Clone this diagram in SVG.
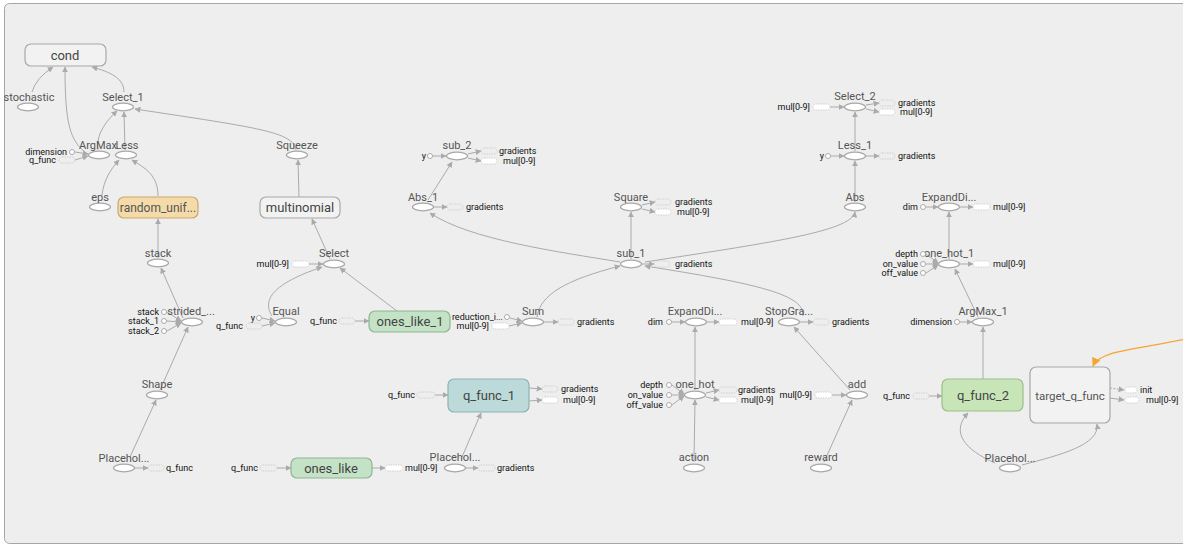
<svg xmlns="http://www.w3.org/2000/svg" width="1183" height="546" viewBox="0 0 1183 546">
<defs>
<marker id="ah" viewBox="0 0 10 10" refX="9" refY="5" markerWidth="6" markerHeight="6" markerUnits="userSpaceOnUse" orient="auto"><path d="M0,0 L10,5 L0,10 z" fill="#aaa"/></marker>
<marker id="ao" viewBox="0 0 10 10" refX="9" refY="5" markerWidth="9" markerHeight="9" markerUnits="userSpaceOnUse" orient="auto"><path d="M0,0 L10,5 L0,10 z" fill="#f5a632"/></marker>
<style>
.e{fill:none;stroke:#aaa;stroke-width:1;marker-end:url(#ah)}
.ed{fill:none;stroke:#aaa;stroke-width:1;stroke-dasharray:2,1.5;marker-end:url(#ah)}
.op{fill:#fff;stroke:#a8a8a8;stroke-width:1.2}
.cir{fill:#fff;stroke:#aaa;stroke-width:1}
.bx{fill:none;stroke:#c8c8c8;stroke-width:0.8;stroke-dasharray:1.5,1}
.bw{fill:#fff;stroke:#c8c8c8;stroke-width:0.8;stroke-dasharray:1.5,1}
.l{font-family:Roboto,"Liberation Sans",sans-serif;font-size:11px;fill:#555;text-anchor:middle}
.bl{font-family:Roboto,"Liberation Sans",sans-serif;font-size:13px;fill:#444;text-anchor:middle}
.a{font-family:Roboto,"Liberation Sans",sans-serif;font-size:9px;fill:#111}
.ar{font-family:Roboto,"Liberation Sans",sans-serif;font-size:9px;fill:#111;text-anchor:end}
</style>
</defs>
<rect x="0" y="0" width="1183" height="546" fill="#fff"/>
<rect x="4.5" y="3.5" width="1200" height="540" rx="5" fill="#eeeeee" stroke="#a6a6a6" stroke-width="1"/>

<g id="connectors">
<path class="e" d="M32,92 Q36,78 53,67"/>
<path class="e" d="M86,153 C70,140 65,125 65,67"/>
<path class="e" d="M124,92 C124,78 110,72 92,67"/>
<path class="e" d="M98,150 C96,135 105,122 117,111"/>
<path class="e" d="M125,150 L124,112"/>
<path class="e" d="M296,150 C293,132 260,128 135,109"/>
<path class="e" d="M102,195 C104,180 110,170 119,160"/>
<path class="e" d="M158,196 C158,175 145,168 132,160"/>
<path class="e" d="M158,258 L158,219"/>
<path class="e" d="M183,318 L161,268"/>
<path class="e" d="M160,390 L188,327"/>
<path class="e" d="M130,457 L156,400"/>
<path class="e" d="M330,259 L312,219"/>
<path class="e" d="M299,197 L298,160"/>
<path class="e" d="M272,316 C262,300 272,284 322,267"/>
<path class="e" d="M397,311 L340,268"/>
<path class="e" d="M537,317 C540,295 565,280 620,266"/>
<path class="e" d="M620,262 C560,252 470,240 430,213"/>
<path class="e" d="M428,200 L452,162"/>
<path class="e" d="M631,259 L631,212"/>
<path class="e" d="M645,262 C760,244 852,232 855,212"/>
<path class="e" d="M803,316 C805,295 760,284 645,266"/>
<path class="e" d="M855,202 L855,161"/>
<path class="e" d="M855,151 L855,112"/>
<path class="e" d="M949,259 L949,212"/>
<path class="e" d="M978,317 L955,269"/>
<path class="e" d="M983,379 L983,327"/>
<path class="e" d="M995,463 C965,450 950,432 968,413"/>
<path class="e" d="M1022,465 C1060,455 1100,445 1097,424"/>
<path fill="none" stroke="#f5a632" stroke-width="1.2" marker-end="url(#ao)" d="M1186,339 C1140,349 1100,350 1093,366"/>
<path class="e" d="M695,390 L695,327"/>
<path class="e" d="M694,462 L695,400"/>
<path class="e" d="M850,390 L794,327"/>
<path class="e" d="M824,462 L852,400"/>
<path class="e" d="M462,457 L481,413"/>
<!-- annotation arrows -->
<path class="e" d="M75,152 L88,154"/>
<path class="e" d="M75,160 L88,156"/>
<path class="e" d="M167,312 L181,321"/>
<path class="e" d="M167,321 L181,322"/>
<path class="e" d="M167,331 L181,323"/>
<path class="e" d="M135,468 L148,468"/>
<path class="e" d="M309,264 L323,264"/>
<path class="e" d="M262,318 L275,321"/>
<path class="e" d="M262,326 L275,323"/>
<path class="e" d="M355,321 L369,321"/>
<path class="e" d="M510,318 L522,321"/>
<path class="e" d="M509,326 L522,323"/>
<path class="e" d="M544,322 L558,322"/>
<path class="e" d="M433,156 L446,156"/>
<path class="e" d="M468,154 L481,151"/>
<path class="e" d="M468,158 L481,161"/>
<path class="e" d="M434,207 L447,207"/>
<path class="e" d="M642,205 L655,202"/>
<path class="e" d="M642,209 L655,212"/>
<path class="e" d="M642,264 L654,264"/>
<path class="e" d="M830,107 L844,107"/>
<path class="e" d="M866,105 L879,103"/>
<path class="e" d="M866,109 L879,112"/>
<path class="e" d="M831,156 L844,156"/>
<path class="e" d="M866,156 L879,156"/>
<path class="e" d="M926,207 L938,207"/>
<path class="e" d="M960,207 L973,207"/>
<path class="e" d="M926,254 L938,263"/>
<path class="e" d="M926,264 L938,264"/>
<path class="e" d="M926,273 L938,265"/>
<path class="e" d="M960,264 L973,264"/>
<path class="e" d="M960,322 L972,322"/>
<path class="e" d="M929,396 L942,396"/>
<path class="ed" d="M1110,388 L1124,390"/>
<path class="e" d="M1110,398 L1124,400"/>
<path class="e" d="M672,322 L685,322"/>
<path class="e" d="M707,322 L719,322"/>
<path class="e" d="M800,322 L813,322"/>
<path class="e" d="M672,385 L684,394"/>
<path class="e" d="M672,395 L684,395"/>
<path class="e" d="M672,405 L684,396"/>
<path class="e" d="M706,393 L719,390"/>
<path class="e" d="M706,397 L719,400"/>
<path class="e" d="M832,395 L846,395"/>
<path class="e" d="M435,395 L448,395"/>
<path class="e" d="M529,388 L542,389"/>
<path class="e" d="M529,401 L542,400"/>
<path class="e" d="M277,468 L291,468"/>
<path class="e" d="M372,468 L385,468"/>
<path class="e" d="M466,468 L478,468"/>
</g>

<g id="cond"><rect x="25" y="44" width="81" height="22" rx="6" fill="#f2f2f2" stroke="#a8a8a8" stroke-width="1.2"/><text class="bl" x="65" y="60">cond</text></g>
<g id="stochastic"><ellipse class="op" cx="28" cy="107" rx="10.5" ry="3.8"/><text class="l" x="29" y="101">stochastic</text></g>
<g id="Select_1"><ellipse class="op" cx="123" cy="107" rx="10.5" ry="3.8"/><text class="l" x="123" y="101">Select_1</text></g>
<g id="ArgMax"><ellipse class="op" cx="99" cy="155" rx="10.5" ry="3.8"/><text class="l" x="98" y="149">ArgMax</text>
<circle class="cir" cx="72" cy="152" r="2.5"/><text class="ar" x="67" y="155">dimension</text>
<rect class="bx" x="59" y="157" width="16" height="6" rx="3"/><text class="ar" x="56" y="163">q_func</text></g>
<g id="Less"><ellipse class="op" cx="126" cy="155" rx="10.5" ry="3.8"/><text class="l" x="127" y="149">Less</text></g>
<g id="eps"><ellipse class="op" cx="100" cy="207" rx="10.5" ry="3.8"/><text class="l" x="100" y="201">eps</text></g>
<g id="random_uniform"><rect x="118" y="197" width="80" height="21" rx="6" fill="#f4dba9" stroke="#c8aa6e" stroke-width="1.2"/><text class="l" x="158" y="212" style="font-size:12px">random_unif...</text></g>
<g id="stack"><ellipse class="op" cx="158" cy="263" rx="10.5" ry="3.8"/><text class="l" x="158" y="257">stack</text></g>
<g id="strided_slice"><ellipse class="op" cx="192" cy="322" rx="10.5" ry="3.8"/><text class="l" x="191" y="315">strided_...</text>
<circle class="cir" cx="164" cy="312" r="2.5"/><text class="ar" x="159" y="315">stack</text>
<circle class="cir" cx="164" cy="321" r="2.5"/><text class="ar" x="159" y="324">stack_1</text>
<circle class="cir" cx="164" cy="331" r="2.5"/><text class="ar" x="159" y="334">stack_2</text></g>
<g id="Shape"><ellipse class="op" cx="157" cy="395" rx="10.5" ry="3.8"/><text class="l" x="157" y="388">Shape</text></g>
<g id="Placeholder"><ellipse class="op" cx="124" cy="468" rx="10.5" ry="3.8"/><text class="l" x="124" y="462">Placehol...</text>
<rect class="bx" x="148" y="465" width="16" height="6" rx="3"/><text class="a" x="166" y="471">q_func</text></g>

<g id="Squeeze"><ellipse class="op" cx="297" cy="155" rx="10.5" ry="3.8"/><text class="l" x="297" y="149">Squeeze</text></g>
<g id="multinomial"><rect x="260" y="197" width="80" height="21" rx="6" fill="#f2f2f2" stroke="#a8a8a8" stroke-width="1.2"/><text class="bl" x="300" y="212">multinomial</text></g>
<g id="Select"><ellipse class="op" cx="334" cy="264" rx="10.5" ry="3.8"/><text class="l" x="334" y="257">Select</text>
<rect class="bw" x="292" y="261" width="17" height="6" rx="3"/><text class="ar" x="289" y="267">mul[0-9]</text></g>
<g id="Equal"><ellipse class="op" cx="286" cy="322" rx="10.5" ry="3.8"/><text class="l" x="286" y="315">Equal</text>
<circle class="cir" cx="259" cy="318" r="2.5"/><text class="ar" x="255" y="321">y</text>
<rect class="bx" x="246" y="323" width="16" height="6" rx="3"/><text class="ar" x="243" y="329">q_func</text></g>
<g id="ones_like_1"><rect x="369" y="311" width="81" height="21" rx="6" fill="#c4e2c6" stroke="#90b494" stroke-width="1.2"/><text class="bl" x="410" y="326">ones_like_1</text>
<rect class="bx" x="339" y="318" width="16" height="6" rx="3"/><text class="ar" x="337" y="324">q_func</text></g>
<g id="Sum"><ellipse class="op" cx="533" cy="322" rx="10.5" ry="3.8"/><text class="l" x="533" y="315">Sum</text>
<circle class="cir" cx="507" cy="317" r="2.5"/><text class="ar" x="503" y="320">reduction_i...</text>
<rect class="bw" x="492" y="323" width="17" height="6" rx="3"/><text class="ar" x="489" y="329">mul[0-9]</text>
<rect class="bx" x="558" y="319" width="16" height="6" rx="3"/><text class="a" x="577" y="325">gradients</text></g>

<g id="sub_2"><ellipse class="op" cx="457" cy="156" rx="10.5" ry="3.8"/><text class="l" x="457" y="149">sub_2</text>
<circle class="cir" cx="430" cy="156" r="2.5"/><text class="ar" x="426" y="159">y</text>
<rect class="bx" x="481" y="148" width="16" height="6" rx="3"/><text class="a" x="499" y="154">gradients</text>
<rect class="bw" x="481" y="158" width="16" height="6" rx="3"/><text class="a" x="503" y="164">mul[0-9]</text></g>
<g id="Abs_1"><ellipse class="op" cx="423" cy="207" rx="10.5" ry="3.8"/><text class="l" x="423" y="201">Abs_1</text>
<rect class="bx" x="447" y="204" width="16" height="6" rx="3"/><text class="a" x="466" y="210">gradients</text></g>
<g id="Square"><ellipse class="op" cx="631" cy="207" rx="10.5" ry="3.8"/><text class="l" x="631" y="201">Square</text>
<rect class="bx" x="655" y="199" width="16" height="6" rx="3"/><text class="a" x="675" y="205">gradients</text>
<rect class="bw" x="655" y="209" width="16" height="6" rx="3"/><text class="a" x="677" y="215">mul[0-9]</text></g>
<g id="sub_1"><ellipse class="op" cx="631" cy="264" rx="10.5" ry="3.8"/><text class="l" x="631" y="257">sub_1</text>
<rect class="bx" x="654" y="261" width="16" height="6" rx="3"/><text class="a" x="675" y="267">gradients</text></g>

<g id="Abs"><ellipse class="op" cx="855" cy="207" rx="10.5" ry="3.8"/><text class="l" x="855" y="201">Abs</text></g>
<g id="Less_1"><ellipse class="op" cx="855" cy="156" rx="10.5" ry="3.8"/><text class="l" x="855" y="149">Less_1</text>
<circle class="cir" cx="828" cy="156" r="2.5"/><text class="ar" x="824" y="159">y</text>
<rect class="bx" x="879" y="153" width="16" height="6" rx="3"/><text class="a" x="898" y="159">gradients</text></g>
<g id="Select_2"><ellipse class="op" cx="855" cy="107" rx="10.5" ry="3.8"/><text class="l" x="855" y="100">Select_2</text>
<rect class="bw" x="813" y="104" width="17" height="6" rx="3"/><text class="ar" x="810" y="110">mul[0-9]</text>
<rect class="bx" x="879" y="100" width="16" height="6" rx="3"/><text class="a" x="898" y="106">gradients</text>
<rect class="bw" x="879" y="109" width="16" height="6" rx="3"/><text class="a" x="900" y="115">mul[0-9]</text></g>
<g id="ExpandDims_1"><ellipse class="op" cx="949" cy="207" rx="10.5" ry="3.8"/><text class="l" x="949" y="201">ExpandDi...</text>
<circle class="cir" cx="923" cy="207" r="2.5"/><text class="ar" x="918" y="210">dim</text>
<rect class="bw" x="973" y="204" width="17" height="6" rx="3"/><text class="a" x="993" y="210">mul[0-9]</text></g>
<g id="one_hot_1"><ellipse class="op" cx="949" cy="264" rx="10.5" ry="3.8"/><text class="l" x="949" y="257">one_hot_1</text>
<circle class="cir" cx="923" cy="254" r="2.5"/><text class="ar" x="918" y="257">depth</text>
<circle class="cir" cx="923" cy="264" r="2.5"/><text class="ar" x="918" y="267">on_value</text>
<circle class="cir" cx="923" cy="273" r="2.5"/><text class="ar" x="918" y="276">off_value</text>
<rect class="bw" x="973" y="261" width="17" height="6" rx="3"/><text class="a" x="993" y="267">mul[0-9]</text></g>
<g id="ArgMax_1"><ellipse class="op" cx="983" cy="322" rx="10.5" ry="3.8"/><text class="l" x="983" y="315">ArgMax_1</text>
<circle class="cir" cx="957" cy="322" r="2.5"/><text class="ar" x="952" y="325">dimension</text></g>
<g id="q_func_2"><rect x="942" y="379" width="81" height="32" rx="6" fill="#c8e5b8" stroke="#9bbf88" stroke-width="1.2"/><text class="bl" x="983" y="400">q_func_2</text>
<rect class="bx" x="913" y="393" width="16" height="6" rx="3"/><text class="ar" x="910" y="399">q_func</text></g>
<g id="target_q_func"><rect x="1030" y="367" width="80" height="56" rx="6" fill="#f2f2f2" stroke="#a8a8a8" stroke-width="1.2"/><text class="l" x="1070" y="400" style="font-size:11.5px">target_q_func</text>
<rect class="bw" x="1125" y="387" width="12" height="6" rx="3"/><text class="a" x="1140" y="393">init</text>
<rect class="bw" x="1125" y="397" width="14" height="6" rx="3"/><text class="a" x="1146" y="403">mul[0-9]</text></g>
<g id="Placeholder_2"><ellipse class="op" cx="1010" cy="468" rx="10.5" ry="3.8"/><text class="l" x="1010" y="462">Placehol...</text></g>

<g id="ExpandDims"><ellipse class="op" cx="696" cy="322" rx="10.5" ry="3.8"/><text class="l" x="695" y="315">ExpandDi...</text>
<circle class="cir" cx="669" cy="322" r="2.5"/><text class="ar" x="663" y="325">dim</text>
<rect class="bw" x="719" y="319" width="18" height="6" rx="3"/><text class="a" x="741" y="325">mul[0-9]</text></g>
<g id="StopGradient"><ellipse class="op" cx="789" cy="322" rx="10.5" ry="3.8"/><text class="l" x="789" y="315">StopGra...</text>
<rect class="bx" x="813" y="319" width="16" height="6" rx="3"/><text class="a" x="832" y="325">gradients</text></g>
<g id="one_hot"><ellipse class="op" cx="695" cy="395" rx="10.5" ry="3.8"/><text class="l" x="695" y="388">one_hot</text>
<circle class="cir" cx="669" cy="385" r="2.5"/><text class="ar" x="663" y="388">depth</text>
<circle class="cir" cx="669" cy="395" r="2.5"/><text class="ar" x="663" y="398">on_value</text>
<circle class="cir" cx="669" cy="405" r="2.5"/><text class="ar" x="663" y="408">off_value</text>
<rect class="bx" x="719" y="387" width="18" height="6" rx="3"/><text class="a" x="738" y="393">gradients</text>
<rect class="bw" x="719" y="397" width="18" height="6" rx="3"/><text class="a" x="741" y="403">mul[0-9]</text></g>
<g id="add"><ellipse class="op" cx="857" cy="395" rx="10.5" ry="3.8"/><text class="l" x="857" y="388">add</text>
<rect class="bw" x="815" y="392" width="17" height="6" rx="3"/><text class="ar" x="812" y="398">mul[0-9]</text></g>
<g id="action"><ellipse class="op" cx="694" cy="468" rx="10.5" ry="3.8"/><text class="l" x="694" y="461">action</text></g>
<g id="reward"><ellipse class="op" cx="821" cy="468" rx="10.5" ry="3.8"/><text class="l" x="821" y="461">reward</text></g>

<g id="q_func_1"><rect x="448" y="379" width="81" height="33" rx="6" fill="#bddada" stroke="#8fb2b2" stroke-width="1.2"/><text class="bl" x="489" y="400">q_func_1</text>
<rect class="bx" x="417" y="392" width="18" height="6" rx="3"/><text class="ar" x="415" y="398">q_func</text>
<rect class="bx" x="542" y="386" width="16" height="6" rx="3"/><text class="a" x="561" y="392">gradients</text>
<rect class="bw" x="542" y="397" width="16" height="6" rx="3"/><text class="a" x="563" y="403">mul[0-9]</text></g>
<g id="ones_like"><rect x="291" y="458" width="81" height="20" rx="6" fill="#c4e2c6" stroke="#90b494" stroke-width="1.2"/><text class="bl" x="331" y="473">ones_like</text>
<rect class="bx" x="260" y="465" width="17" height="6" rx="3"/><text class="ar" x="258" y="471">q_func</text>
<rect class="bw" x="385" y="465" width="18" height="6" rx="3"/><text class="a" x="405" y="471">mul[0-9]</text></g>
<g id="Placeholder_1"><ellipse class="op" cx="455" cy="468" rx="10.5" ry="3.8"/><text class="l" x="455" y="461">Placehol...</text>
<rect class="bx" x="478" y="465" width="17" height="6" rx="3"/><text class="a" x="497" y="471">gradients</text></g>
</svg>
